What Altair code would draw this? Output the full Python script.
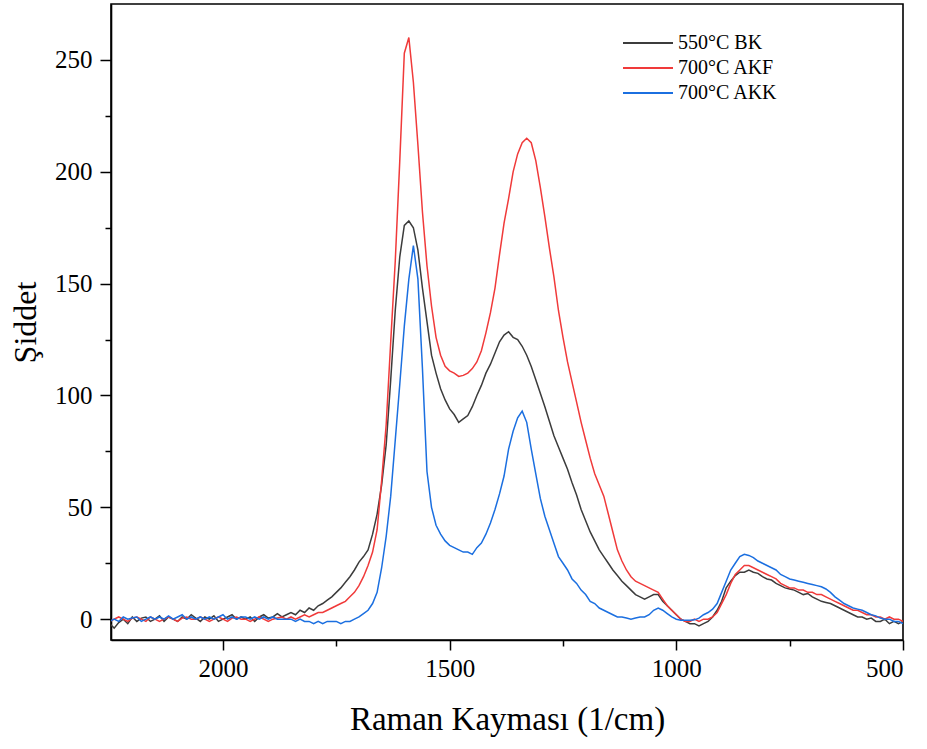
import altair as alt
import pandas as pd

# Raman shift grid (1/cm), from 2250 down to 500 in steps of 10
shift = list(range(2250, 499, -10))

series_names = ["550°C BK", "700°C AKF", "700°C AKK"]
series_colors = ["#3c3c3c", "#f03a3a", "#1b6fe0"]

bk_550 = [
    -2, -4, -1.5, 0, -2, 1, -1, 0.5, 1, -1,
    0, 1.5, -1, 1, 0, -1, 1, 0, 2, 0.5,
    -1, 1, 0, 1.5, -1, 0, 1, 2, 0, 1,
    0, 1, -1, 1, 2, 0.5, 1, 2.5, 1, 2,
    3, 2, 4, 3, 5, 4, 6, 7, 8.5, 10,
    12, 14, 16.5, 19, 22, 25.5, 28, 31, 38, 47,
    60, 78, 107, 138, 162, 176, 178, 175, 165, 148,
    133, 118, 110, 103, 98, 94, 91.5, 88, 89.5, 91,
    95, 100, 104.5, 110, 114, 119, 124, 127, 128.5, 126,
    125, 122, 118, 113, 107, 101, 95, 88.5, 82, 77,
    72, 67, 61, 55.5, 49, 44, 39, 35, 31, 28,
    25, 22, 19.5, 17, 15, 13, 11, 10, 9, 10,
    11, 11, 8, 6, 4, 2, 0, -1, -2, -2,
    -3, -2, -1, 1, 4, 8, 14, 17, 19.5, 21,
    21, 22, 21, 20.5, 19, 18, 17.5, 16, 15, 14,
    13.5, 13, 12, 11, 11.5, 10, 9, 8, 7.5, 7,
    6, 5, 4, 3, 2, 1, 1, 0, 0.5, -1,
    -1, 0, -2, -1, -2, -1,
]

akf_700 = [
    -1, 0, 1, 0, -1, 0.5, 1, 0, -1, 1,
    0, -1, 0, 1, 0, -1, 0.5, 1, 0, 0,
    1, 0, -1, 0, 1, 0, -1, 0.5, 1, 0,
    0, -1, 0, 1, 0, -1, 0, 0.5, 1, 0,
    1, 0, 1, 2, 1, 2, 3, 3, 4, 5,
    6, 7, 8, 10, 12, 15, 19, 24, 30, 40,
    62, 87, 124, 160, 205, 253, 260, 240, 212, 182,
    158, 140, 126, 118, 113, 111, 110, 108.5, 109, 110,
    112, 115, 120, 128, 137, 148, 163, 177, 188, 200,
    208, 213, 215, 213, 205, 193, 180, 166, 153, 138,
    126, 115, 106, 97, 88, 80, 72, 65, 60, 55,
    47, 39, 31, 26, 22, 19, 17, 16, 15, 14,
    13, 12, 9, 6, 4, 2, 0, -1, -1, 0,
    -1, 0, 0, 1, 3, 7, 11, 16, 20, 22,
    24, 24, 23, 22, 21, 20, 19, 18, 16, 15,
    14, 14, 13, 13, 12, 12, 11, 11, 10, 9,
    8, 7, 6, 5, 4, 4, 3, 2, 2, 1,
    1, 0, 1, 0, 0, -1,
]

akk_700 = [
    -1, 0, -1, 1, 0, 0.5, 1, -1, 0, 1,
    0, 1, 0, 1.5, 0, 1, 2, 0, 1, 0,
    1, 0, 1, 0, 1, 2, 0, 1, 0, 1,
    1, 0, 1, 0, 1, 0, 1, 0, 0, 0,
    0, -1, 0, -1, -1, -2, -1, -2, -1, -1,
    -1, -2, -1, -1, 0, 1, 2.5, 4, 7, 12,
    23, 37, 55, 80, 105, 131, 152, 167, 152, 112,
    66, 50, 42, 38, 35, 33, 32, 31, 30, 30,
    29, 32, 34, 38, 43, 49, 56, 64, 76, 84,
    90, 93, 88, 76, 65, 54, 46, 40, 34, 28,
    25, 22, 18, 16, 13, 11, 8, 7, 5, 4,
    3, 2, 1, 1, 0.5, 0, 0.5, 1, 1, 2,
    4, 5, 4, 2.5, 1, 0, -0.5, -0.5, -0.5, -0.3,
    0.5, 2, 3, 4.5, 7, 12, 17, 22, 25, 28,
    29, 28.5, 27.5, 26, 25, 24, 23, 22, 20, 19,
    18, 17.5, 17, 16.5, 16, 15.5, 15, 14.5, 13.5, 12,
    10, 8.5, 7, 6, 5, 4.5, 4, 3, 2, 1.5,
    0.5, 0, 0, -1, -1, -2,
]

rows = []
for name, vals in zip(series_names, [bk_550, akf_700, akk_700]):
    for s, v in zip(shift, vals):
        rows.append({"shift": s, "intensity": v, "series": name})
df = pd.DataFrame(rows)

FONT = "Liberation Serif"

x_ticks = [2000, 1750, 1500, 1250, 1000, 750, 500]
y_ticks = [0, 25, 50, 75, 100, 125, 150, 175, 200, 225, 250]

chart = (
    alt.Chart(df)
    .mark_line(strokeWidth=1.5, clip=True)
    .encode(
        x=alt.X(
            "shift:Q",
            scale=alt.Scale(domain=[2247, 500], nice=False, zero=False),
            axis=alt.Axis(
                title="Raman Kayması (1/cm)",
                values=x_ticks,
                labelExpr="datum.value % 500 === 0 ? datum.label : ''",
                format="d",
                grid=False,
                tickSize={"condition": {"test": "datum.value % 500 === 0", "value": 10}, "value": 6},
                labelPadding=6,
                titlePadding=22,
                labelFont=FONT,
                labelFontSize=25,
                labelColor="black",
                titleFont=FONT,
                titleFontSize=33,
                titleFontWeight="normal",
                titleColor="black",
            ),
        ),
        y=alt.Y(
            "intensity:Q",
            scale=alt.Scale(domain=[-9.3, 275], nice=False, zero=False),
            axis=alt.Axis(
                title="Şiddet",
                values=y_ticks,
                labelExpr="datum.value % 50 === 0 ? datum.label : ''",
                format="d",
                grid=False,
                tickSize={"condition": {"test": "datum.value % 50 === 0", "value": 11}, "value": 6},
                labelPadding=8,
                titlePadding=12,
                labelFont=FONT,
                labelFontSize=25,
                labelColor="black",
                titleFont=FONT,
                titleFontSize=32,
                titleFontWeight="normal",
                titleColor="black",
            ),
        ),
        color=alt.Color(
            "series:N",
            scale=alt.Scale(domain=series_names, range=series_colors),
            sort=series_names,
            legend=alt.Legend(
                title=None,
                orient="none",
                legendX=547,
                legendY=29,
                symbolType="M-9,0H1",
                symbolSize=100,
                symbolStrokeWidth=2,
                labelFont=FONT,
                labelFontSize=20,
                labelColor="black",
                labelOffset=0,
                rowPadding=5,
                padding=0,
            ),
        ),
        order=alt.Order("shift:Q", sort="descending"),
    )
    .properties(
        width=792,
        height=636,
        autosize=alt.AutoSizeParams(type="none"),
        padding={"left": 111, "top": 4, "right": 24, "bottom": 109},
        background="white",
    )
    .configure_view(stroke="black", strokeWidth=1.6)
    .configure_axis(
        domainColor="black",
        domainWidth=1.6,
        tickColor="black",
        tickWidth=1.5,
    )
)

chart.save("out.html", embed_options={"renderer": "svg", "actions": False})
